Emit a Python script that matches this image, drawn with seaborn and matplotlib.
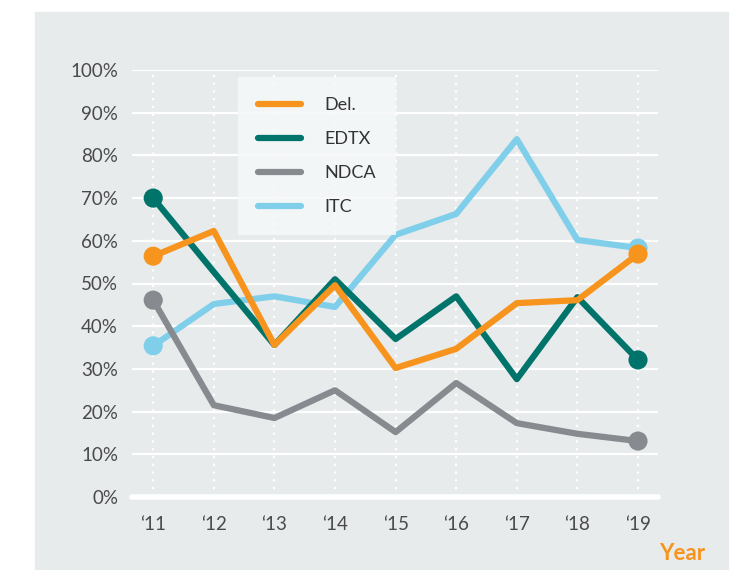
import pandas as pd
import matplotlib.pyplot as plt
import seaborn as sns
from matplotlib.lines import Line2D
from matplotlib.patches import Rectangle

# Données
years = ["\u201811", "\u201812", "\u201813", "\u201814", "\u201815",
         "\u201816", "\u201817", "\u201818", "\u201819"]
del_vals = [56.4, 62.3, 35.6, 49.6, 30.2, 34.7, 45.4, 46.1, 56.9]
edtx_vals = [70.0, 52.7, 35.6, 51.0, 37.0, 47.0, 27.6, 46.8, 32.1]
ndca_vals = [46.1, 21.5, 18.5, 25.0, 15.2, 26.7, 17.3, 14.8, 13.1]
itc_vals = [35.4, 45.2, 47.0, 44.5, 61.4, 66.3, 83.8, 60.2, 58.3]
series_names = ["Del.", "EDTX", "NDCA", "ITC"]
y_ticks = [0, 10, 20, 30, 40, 50, 60, 70, 80, 90, 100]

colors = {"Del.": "#F7941D", "EDTX": "#00746B",
          "NDCA": "#878A8F", "ITC": "#80CFEA"}

# Ordre de dessin (dernier = au-dessus)
draw_order = ["ITC", "NDCA", "EDTX", "Del."]

rows = []
for name, vals in zip(series_names, [del_vals, edtx_vals, ndca_vals, itc_vals]):
    for i, v in enumerate(vals):
        rows.append({"idx": i, "year": years[i], "series": name, "value": v})
df = pd.DataFrame(rows)
df["order"] = df["series"].map({n: k for k, n in enumerate(draw_order)})
df = df.sort_values(["order", "idx"])
ends = df[df["idx"].isin([0, len(years) - 1])]

sns.set_style("white")
plt.rcParams["font.family"] = ["Lato", "DejaVu Sans"]

fig = plt.figure(figsize=(7.32, 5.7), dpi=100)
# Fond gris du panneau
fig.add_artist(Rectangle((35 / 732, 0), (728 - 35) / 732, (570 - 12) / 570,
                         transform=fig.transFigure, color="#E8EBEC",
                         zorder=-5))
ax = fig.add_axes([132 / 732, 1 - 497 / 570, (658 - 132) / 732, (497 - 70) / 570])
ax.set_facecolor("none")

# Grille
for yt in y_ticks[1:]:
    ax.axhline(yt, color="white", lw=1.6, zorder=1)
ax.axhline(0, color="white", lw=4, zorder=1, clip_on=False)
for i in range(len(years)):
    ax.axvline(i, color="white", lw=1.6, ls=(0, (1, 2.5)), zorder=1)

sns.lineplot(data=df, x="idx", y="value", hue="series", hue_order=draw_order,
             palette=colors, lw=4.5, ax=ax, legend=False, zorder=3)
sns.scatterplot(data=ends, x="idx", y="value", hue="series",
                hue_order=draw_order, palette=colors, s=190, linewidth=0,
                ax=ax, legend=False, zorder=4, clip_on=False)

ax.set_xlim(-0.35, 8.33)
ax.set_ylim(0, 100)
ax.set_xticks(range(len(years)))
ax.set_xticklabels(years)
ax.set_yticks(y_ticks)
ax.set_yticklabels([f"{t}%" for t in y_ticks])
ax.tick_params(axis="both", length=0, labelsize=13.5, colors="#4A4A4A")
ax.tick_params(axis="x", pad=14)
ax.tick_params(axis="y", pad=10)
ax.set_xlabel("")
ax.set_ylabel("")
sns.despine(ax=ax, left=True, bottom=True)

handles = [Line2D([0], [0], color=colors[n], lw=4.5) for n in series_names]
leg = ax.legend(handles, series_names, loc="upper left",
                bbox_to_anchor=(106 / 526, 1 - 7 / 427), frameon=True,
                fancybox=False, fontsize=13, handlelength=2.4,
                handletextpad=1.3, labelspacing=1.0, borderpad=1.1,
                borderaxespad=0)
leg.get_frame().set_facecolor("#F6F8F9")
leg.get_frame().set_edgecolor("none")
leg.get_frame().set_alpha(0.85)
for t in leg.get_texts():
    t.set_color("#333333")

fig.text(682 / 732, 1 - 554 / 570, "Year", color="#F7941D", fontsize=16,
         fontweight="bold", ha="center", va="center")

plt.savefig("out.png", dpi=100)
